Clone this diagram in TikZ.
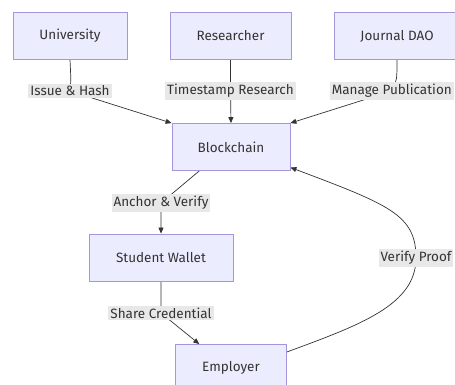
\documentclass[tikz,border=0pt]{standalone}
\usepackage{fontspec}
\setmainfont{Fira Sans}
\usetikzlibrary{arrows.meta,backgrounds}
\definecolor{boxfill}{HTML}{ECECFF}
\definecolor{boxline}{HTML}{A596DC}
\definecolor{lblfill}{HTML}{E8E8E8}
\definecolor{ink}{HTML}{333333}

\begin{document}
\begin{tikzpicture}[
    x=1pt, y=-1pt,
    font=\fontsize{13.5}{16}\selectfont, text=ink,
    %
    actor/.style={draw=boxline, fill=boxfill, rectangle, line width=0.8pt,
                  minimum height=47pt},
    lbl/.style={fill=lblfill, inner sep=2pt},
    %
    flow/.style={draw=ink, line width=0.7pt, -{Triangle[length=6pt,width=5pt]}}
    ]
    \clip (0,0) rectangle (455,385);

    \node[actor, minimum width=114pt] (univ)     at (70,36)    {University};
    \node[actor, minimum width=121pt] (res)      at (230.5,36) {Researcher};
    \node[actor, minimum width=126pt] (jdao)     at (397,36)   {Journal DAO};
    \node[actor, minimum width=118pt] (chain)    at (231,147)  {Blockchain};
    \node[actor, minimum width=144pt] (wallet)   at (161,257.5) {Student Wallet};
    \node[actor, minimum width=111pt] (employer) at (231,368)  {Employer};
    %
    \node[lbl] (hash)   at (70,91)    {Issue \& Hash};
    \node[lbl] (stamp)  at (230.5,91) {Timestamp Research};
    \node[lbl, anchor=east] (pub) at (454,91) {Manage Publication};
    \node[lbl] (anchor) at (161,203)  {Anchor \& Verify};
    \node[lbl] (share)  at (161,313)  {Share Credential};
    \node[lbl] (proof)  at (416,258)  {Verify Proof};

    \begin{scope}[on background layer]
    \draw[flow] (univ.south) .. controls (71,80) .. (hash.center) -- (chain.north west);
    \draw[flow] (res.south) -- (stamp.center) -- (chain.north);
    \draw[flow] (jdao.south) .. controls (397,80) .. (pub.center) -- (chain.north east);
    \draw[flow] (chain.217) -- (anchor.center) -- (wallet.north);
    \draw[flow] (wallet.south) -- (share.center) -- (employer.143);
    \draw[flow] (employer.16) .. controls (360,325) and (416,305) .. (proof.center)
        .. controls (416,215) and (390,205) .. (chain.-19);
    \end{scope}
\end{tikzpicture}
\end{document}
